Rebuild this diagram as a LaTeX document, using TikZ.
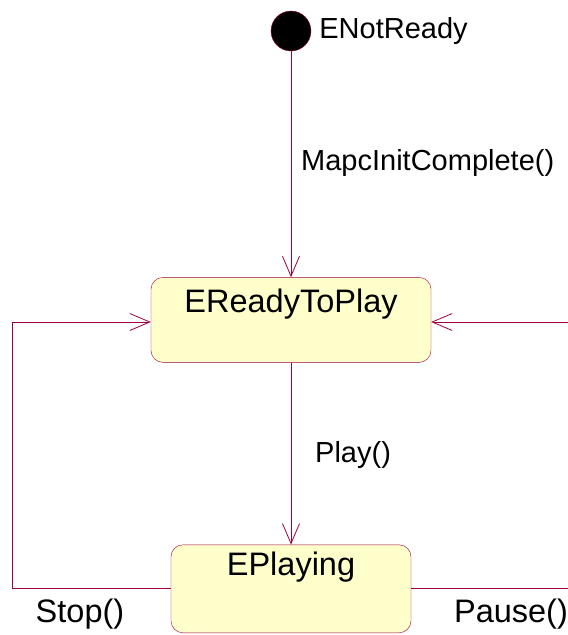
\documentclass[tikz,border=0pt]{standalone}
\usepackage{fontspec}
\setmainfont{Liberation Sans}
\usepackage{tikz}
\usetikzlibrary{arrows.meta, positioning}

\definecolor{umlred}{RGB}{160,0,60}
\definecolor{umlyellow}{RGB}{255,255,204}

\begin{document}
\begin{tikzpicture}[
    x=1pt, y=-1pt,
    state/.style={rectangle, draw=umlred, fill=umlyellow, rounded corners=12pt,
                  inner sep=0pt, text centered, font=\fontsize{32.5}{36}\selectfont},
    initial/.style={circle, draw=umlred, fill=black, minimum size=40pt, inner sep=0pt},
    lbl/.style={font=\fontsize{29}{33}\selectfont, inner sep=0pt},
    trans/.style={draw=umlred, line width=0.8pt},
    arrow/.style={trans, -{Straight Barb[length=20pt, width=17pt, line width=0.8pt]}},
]
\useasboundingbox (0,0) rectangle (568,635);
\clip (0,0) rectangle (568,635);

\node[initial] (init) at (291,31) {};
\node[lbl, right=8pt of init] (notready) {ENotReady};
\node[state, below=226pt of init, minimum width=280pt,
      text height=35pt, text depth=50pt] (ready) {EReadyToPlay};
\node[state, below=182pt of ready, minimum width=240pt,
      text height=31pt, text depth=57pt] (playing) {EPlaying};

\coordinate (lloop) at (12,322);
\coordinate (rloop) at (600,322);

\draw[arrow] (init)--(ready);
\draw[arrow] (ready)--(playing);
\draw[arrow] (playing.west |- 0,588) -| (lloop) -- (ready.west |- lloop);
\draw[arrow] (playing.east |- 0,588) -| (rloop) -- (ready.east |- rloop);

\node[lbl, anchor=west] (initlbl) at (301,163) {MapcInitComplete()};
\node[lbl, anchor=west] (playlbl) at (315,455) {Play()};
\node[lbl, font=\fontsize{32.5}{36}\selectfont] (stoplbl) at (80,614) {Stop()};
\node[lbl, font=\fontsize{32.5}{36}\selectfont] (pauselbl) at (511,614) {Pause()};
\end{tikzpicture}
\end{document}
